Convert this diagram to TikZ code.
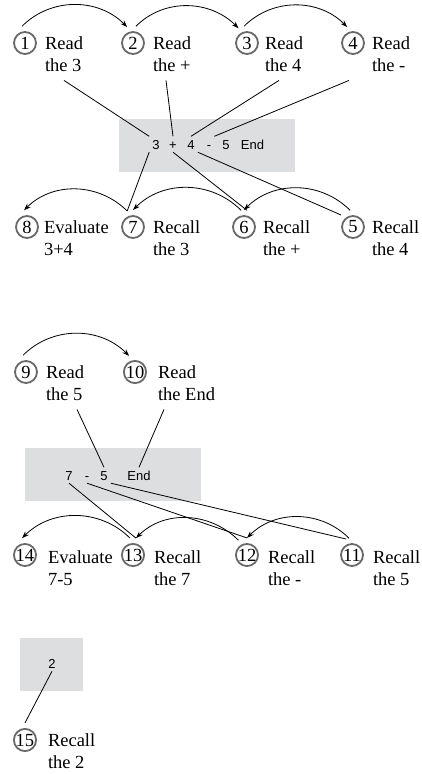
\documentclass[tikz,border=0pt]{standalone}
\usepackage{fontspec}
\setmainfont{Liberation Serif}
\newfontfamily\tokfont{Liberation Sans}
\usetikzlibrary{arrows.meta,positioning}
\definecolor{tapegray}{RGB}{221,222,224}
\definecolor{ringgray}{RGB}{105,105,105}

\begin{document}
\begin{tikzpicture}[x=1pt, y=1pt,
  num/.style={circle, draw=ringgray, line width=1.8pt, minimum size=22pt, inner sep=0pt, outer sep=6pt, font=\fontsize{18.5}{22}\selectfont},
  lbl/.style={anchor=north west, align=left, inner sep=0pt, outer xsep=0pt, outer ysep=9pt, font=\fontsize{18.5}{22}\selectfont},
  tok/.style={anchor=base, inner sep=3pt, text height=9.5pt, text depth=0pt, font=\tokfont\fontsize{13}{15}\selectfont},
  tape/.style={fill=tapegray, minimum height=53pt, inner sep=0pt},
  hop/.style={-{Stealth[length=7pt,width=5pt]}, line width=0.8pt},
  link/.style={line width=0.8pt}]
\useasboundingbox (0,0) rectangle (421,-774);

% Grey tapes with the tokens
\node[tape, minimum width=176pt] (tape1) at (207,-145.5) {};
\node[tape, minimum width=176pt] (tape2) at (113,-474.5) {};
\node[tape, minimum width=63pt] (tape3) at (51.5,-664.5) {};
\node[tok] (tA3) at (156,-149) {3};
\node[tok] (tAplus) at (173,-149) {+};
\node[tok] (tA4) at (191,-149) {4};
\node[tok] (tAminus) at (209,-149) {-};
\node[tok] (tA5) at (226,-149) {5};
\node[tok] (tAend) at (252.5,-149) {End};
\node[tok] (tB7) at (69,-480) {7};
\node[tok] (tBminus) at (87,-480) {-};
\node[tok] (tB5) at (104,-480) {5};
\node[tok] (tBend) at (139,-480) {End};
\node[tok] (tC2) at (52,-668) {2};

% Step 1-4: reading
\node[num] (c1) at (25,-43) {1};
\node[num] (c2) at (133,-43) {2};
\node[num] (c3) at (247,-43) {3};
\node[num] (c4) at (353,-43) {4};
\node[lbl] (l1) at (45,-27.4) {Read\\the 3};
\node[lbl] (l2) at (153,-27.4) {Read\\the +};
\node[lbl] (l3) at (265,-27.4) {Read\\the 4};
\node[lbl] (l4) at (372,-27.4) {Read\\the -};
\draw[hop] (c1.100) to[out=45,in=135] (c2.110);
\draw[hop] (c2.80) to[out=45,in=135] (c3.120);
\draw[hop] (c3.100) to[out=45,in=135] (c4.110);
\draw[link] (l1.south) -- (tA3.north west);
\draw[link] ([xshift=-6pt]l2.south) -- (tAplus.north);
\draw[link] ([xshift=-5pt]l3.south) -- (tA4.north);
\draw[link] ([xshift=-23pt]l4.south west) -- (tAminus.north east);

% Step 5-8: recalling
\node[num] (c8) at (27,-227) {8};
\node[num] (c7) at (133,-227) {7};
\node[num] (c6) at (244,-227) {6};
\node[num] (c5) at (353,-227) {5};
\node[lbl] (l8) at (44,-211.4) {Evaluate\\3+4};
\node[lbl] (l7) at (153,-211.4) {Recall\\the 3};
\node[lbl] (l6) at (263,-211.4) {Recall\\the +};
\node[lbl] (l5) at (372,-211.4) {Recall\\the 4};
\draw[hop] (c5.100) to[out=135,in=45] (c6.90);
\draw[hop] (c6.100) to[out=135,in=45] (c7.90);
\draw[hop] (c7.110) to[out=135,in=45] (c8.100);
\draw[link] (tA3.south west) -- (c7.110);
\draw[link] (tAplus.south) -- (c6.80);
\draw[link] (tA4.south east) -- (c5.north west);

% Step 9-10: reading the rest
\node[num] (c9) at (26,-372) {9};
\node[num] (c10) at (135,-372) {10};
\node[lbl] (l9) at (46,-356.4) {Read\\the 5};
\node[lbl] (l10) at (158,-356.4) {Read\\the End};
\draw[hop] (c9.100) to[out=45,in=135] (c10.110);
\draw[link] ([xshift=12pt]l9.south) -- (tB5.north);
\draw[link] ([xshift=6pt]l10.south west) -- (tBend.north);

% Step 11-14: recalling again
\node[num] (c14) at (25,-555) {14};
\node[num] (c13) at (133,-555) {13};
\node[num] (c12) at (247,-555) {12};
\node[num] (c11) at (352,-555) {11};
\node[lbl] (l14) at (48,-541.4) {Evaluate\\7-5};
\node[lbl] (l13) at (154,-541.4) {Recall\\the 7};
\node[lbl] (l12) at (268,-541.4) {Recall\\the -};
\node[lbl] (l11) at (373,-541.4) {Recall\\the 5};
\draw[hop] (c11.100) to[out=135,in=45] (c12.90);
\draw[hop] (c12.120) to[out=135,in=45] (c13.80);
\draw[hop] (c13.100) to[out=135,in=45] (c14.100);
\draw[link] (tB7.south) -- (c13.80);
\draw[link] (tBminus.south) -- (c12.north);
\draw[link] (tB5.south east) -- (c11.110);

% Step 15: result
\node[num] (c15) at (25,-740) {15};
\node[lbl] (l15) at (48,-724.4) {Recall\\the 2};
\draw[link] (tC2.south) -- (c15.north);
\end{tikzpicture}
\end{document}
